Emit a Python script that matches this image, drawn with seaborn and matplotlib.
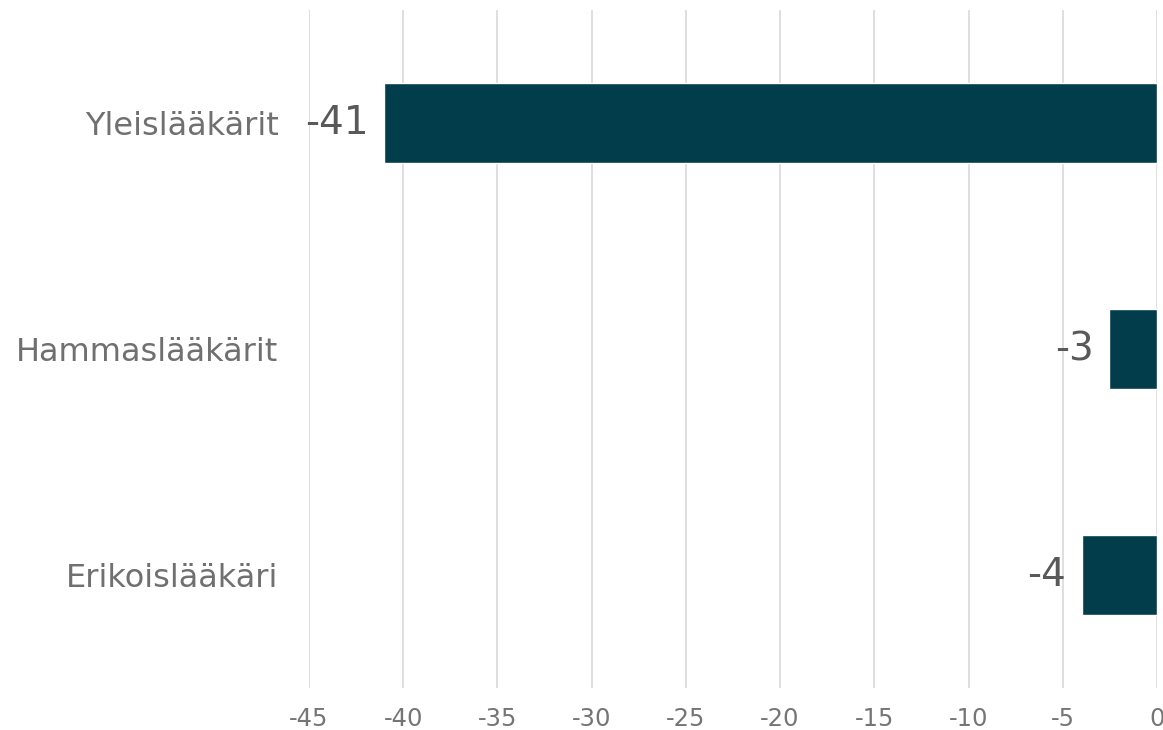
import pandas as pd
import seaborn as sns
import matplotlib.pyplot as plt
import numpy as np

# Data
categories = ["Yleislääkärit", "Hammaslääkärit", "Erikoislääkäri"]
values = [-41, -2.55, -4]
x_ticks = list(range(-45, 1, 5))

df = pd.DataFrame({"ryhma": categories, "muutos": values})

sns.set_style("white")
plt.rcParams['font.family'] = ['DejaVu Sans']

fig = plt.figure(figsize=(11.63, 7.3), dpi=100)
ax = fig.add_axes([0.2657, 0.0575, 0.7291, 0.9288])

sns.barplot(data=df, x="muutos", y="ryhma", orient="h", color="#023D4C",
            width=0.354, saturation=1, ax=ax)

# value labels
for cont in ax.containers:
    ax.bar_label(cont, labels=[f"{v:.0f}" for v in values], padding=11,
                 fontsize=28, color="#595959")

ax.set_xlim(-45, 0)
ax.set_xticks(x_ticks)
ax.set_xticklabels([str(t) for t in x_ticks])
ax.xaxis.grid(True, color="#D9D9D9", linewidth=1.2)
ax.set_axisbelow(True)
ax.set_xlabel("")
ax.set_ylabel("")
for s in ax.spines.values():
    s.set_visible(False)
ax.tick_params(axis="x", length=0, pad=14, labelsize=17.5, labelcolor="#757575")
ax.tick_params(axis="y", length=0, pad=22, labelsize=23, labelcolor="#707070")

fig.savefig("out.png", dpi=100)
